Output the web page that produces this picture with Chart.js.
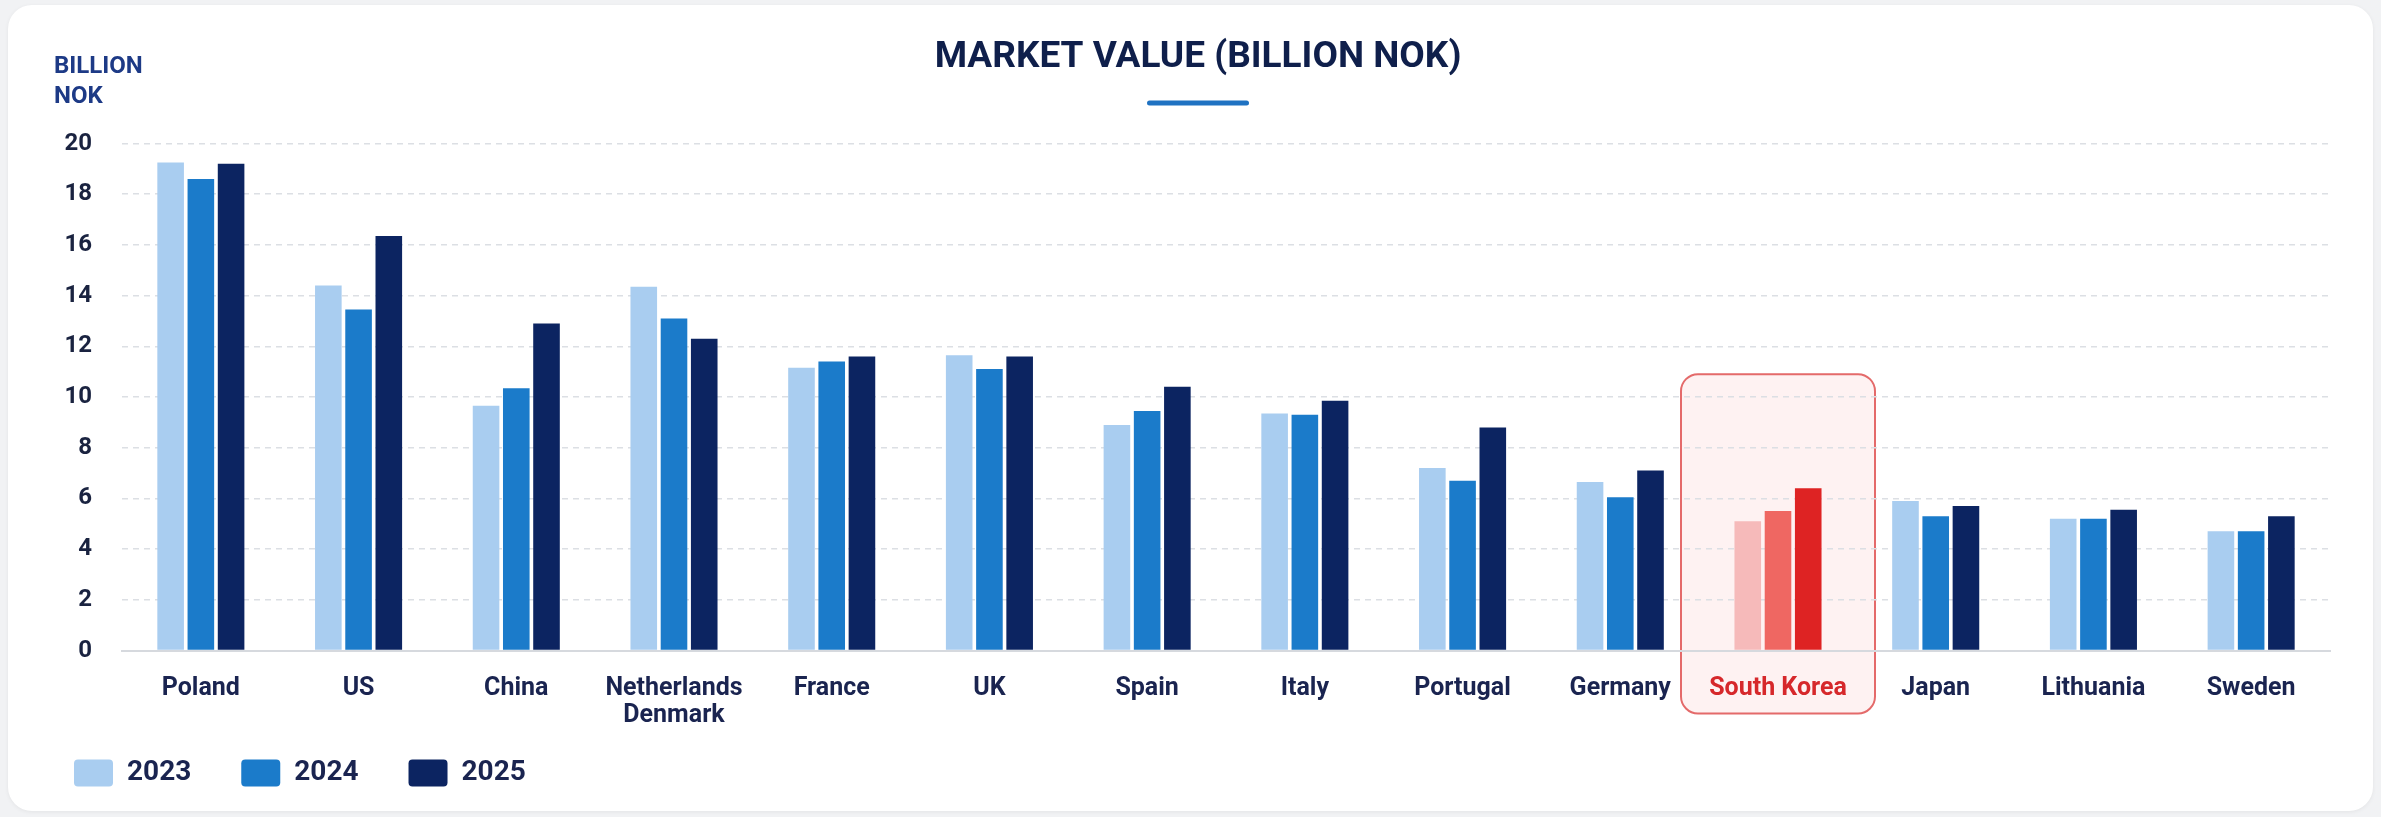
<!DOCTYPE html>
<html>
<head>
<meta charset="utf-8">
<script src="https://cdn.jsdelivr.net/npm/chart.js@4.4.1/dist/chart.umd.min.js"></script>
<style>
  html, body { margin: 0; padding: 0; background: #f1f2f4; }
  #wrap { position: relative; width: 2381px; height: 817px; overflow: hidden; }
  #card { position: absolute; left: 8px; top: 5px; width: 2365px; height: 806px; background: #ffffff; border-radius: 24px; box-shadow: 0 1px 4px rgba(0,0,0,0.06); }
  #c { position: absolute; left: 0; top: 0; }
</style>
</head>
<body>
<div id="wrap">
  <div id="card"></div>
  <canvas id="c" width="2381" height="817"></canvas>
</div>
<script>
// ---- data ----
const categories = ['Poland', 'US', 'China', ['Netherlands', 'Denmark'], 'France', 'UK', 'Spain', 'Italy', 'Portugal', 'Germany', 'South Korea', 'Japan', 'Lithuania', 'Sweden'];
const seriesNames = ['2023', '2024', '2025'];
const values2023 = [19.25, 14.4, 9.65, 14.35, 11.15, 11.65, 8.9, 9.35, 7.2, 6.65, 5.1, 5.9, 5.2, 4.7];
const values2024 = [18.6, 13.45, 10.35, 13.1, 11.4, 11.1, 9.45, 9.3, 6.7, 6.05, 5.5, 5.3, 5.2, 4.7];
const values2025 = [19.2, 16.35, 12.9, 12.3, 11.6, 11.6, 10.4, 9.85, 8.8, 7.1, 6.4, 5.7, 5.55, 5.3];
const yTicks = [0, 2, 4, 6, 8, 10, 12, 14, 16, 18, 20];
const highlightCategory = 'South Korea';

// ---- styles ----
const blueColors = ['#a9cdf0', '#1b7bca', '#0c2461'];
const redColors = ['#f6baba', '#ef6762', '#de2323'];
const highlightIndex = categories.indexOf(highlightCategory);
const FONT = 'Roboto, "Liberation Sans", sans-serif';

function colorFor(series) {
  return (ctx) => (ctx && ctx.dataIndex === highlightIndex) ? redColors[series] : blueColors[series];
}

const seriesValues = [values2023, values2024, values2025];
const datasets = seriesNames.map((name, i) => ({
  label: name,
  data: seriesValues[i],
  backgroundColor: colorFor(i),
  borderWidth: 0,
  categoryPercentage: 0.575,
  barPercentage: 0.88,
  yAxisID: 'y'
}));

const decorPlugin = {
  id: 'decor',
  beforeDraw(chart) {
    const {ctx, scales} = chart;
    const x = scales.x, y = scales.y;
    if (highlightIndex < 0) return;
    const cx = x.getPixelForValue(highlightIndex);
    const w = 194;
    const top = y.getPixelForValue(10.9);
    const bottom = y.getPixelForValue(0) + 63;
    ctx.save();
    ctx.beginPath();
    ctx.roundRect(cx - w / 2, top, w, bottom - top, 17);
    ctx.fillStyle = 'rgba(253, 232, 232, 0.55)';
    ctx.fill();
    ctx.lineWidth = 2;
    ctx.strokeStyle = '#e46a6a';
    ctx.stroke();
    ctx.restore();
  },
  afterDraw(chart) {
    const {ctx} = chart;
    const tb = chart.titleBlock;
    ctx.save();
    // underline under the title
    const mid = (tb.left + tb.right) / 2;
    ctx.beginPath();
    ctx.roundRect(mid - 51, 100.5, 102, 5, 2.5);
    ctx.fillStyle = '#1f72c2';
    ctx.fill();
    // unit label
    ctx.fillStyle = '#1d3a86';
    ctx.font = 'bold 24px ' + FONT;
    ctx.textBaseline = 'middle';
    ctx.textAlign = 'left';
    ctx.fillText('BILLION', 54, 67);
    ctx.fillText('NOK', 54, 97);
    ctx.restore();
  }
};

new Chart(document.getElementById('c'), {
  type: 'bar',
  data: { labels: categories, datasets },
  plugins: [decorPlugin],
  options: {
    responsive: false,
    animation: false,
    devicePixelRatio: 1,
    layout: { padding: { left: 24, right: 9, top: 0, bottom: 20 } },
    plugins: {
      title: {
        display: true,
        text: 'MARKET VALUE (BILLION NOK)',
        color: '#0f1f4b',
        font: { family: FONT, size: 37, weight: 'bold', lineHeight: 1.2 },
        padding: { top: 35.8, bottom: 63.3 }
      },
      legend: {
        display: true,
        position: 'bottom',
        align: 'start',
        labels: {
          boxWidth: 39,
          boxHeight: 27,
          useBorderRadius: true,
          borderRadius: 4,
          padding: 50,
          color: '#1a2450',
          font: { family: FONT, size: 28, weight: 'bold' }
        }
      },
      tooltip: { enabled: false }
    },
    scales: {
      x: {
        type: 'category',
        offset: true,
        grid: { display: false, drawTicks: false },
        border: { display: true, color: '#d6d9de', width: 2 },
        ticks: {
          padding: 24,
          autoSkip: false,
          maxRotation: 0,
          color: (ctx) => ctx.index === highlightIndex ? '#d6282b' : '#1a2450',
          font: { family: FONT, size: 25, weight: 'bold', lineHeight: 1.1 }
        },
        afterFit: (s) => {
          s.height = 58.5;
          // let the two-line label run below the axis box
          s._computeLabelArea = () => null;
        }
      },
      y: {
        type: 'linear',
        position: 'left',
        min: yTicks[0],
        max: yTicks[yTicks.length - 1],
        afterBuildTicks: (s) => { s.ticks = yTicks.map(v => ({ value: v })); },
        grid: {
          drawTicks: false,
          color: (ctx) => ctx.tick && ctx.tick.value === 0 ? 'rgba(0,0,0,0)' : '#dcdfe4',
          lineWidth: 1.5
        },
        border: { display: false, dash: [6, 5] },
        ticks: {
          padding: 30,
          color: '#1a2340',
          font: { family: FONT, size: 24, weight: 'bold' }
        },
        afterFit: (s) => { s.width = 98; }
      },
      yRight: {
        type: 'linear',
        position: 'right',
        display: true,
        grid: { display: false, drawTicks: false },
        border: { display: false },
        ticks: { display: false },
        afterFit: (s) => { s.width = 42; }
      }
    }
  }
});
</script>
</body>
</html>
